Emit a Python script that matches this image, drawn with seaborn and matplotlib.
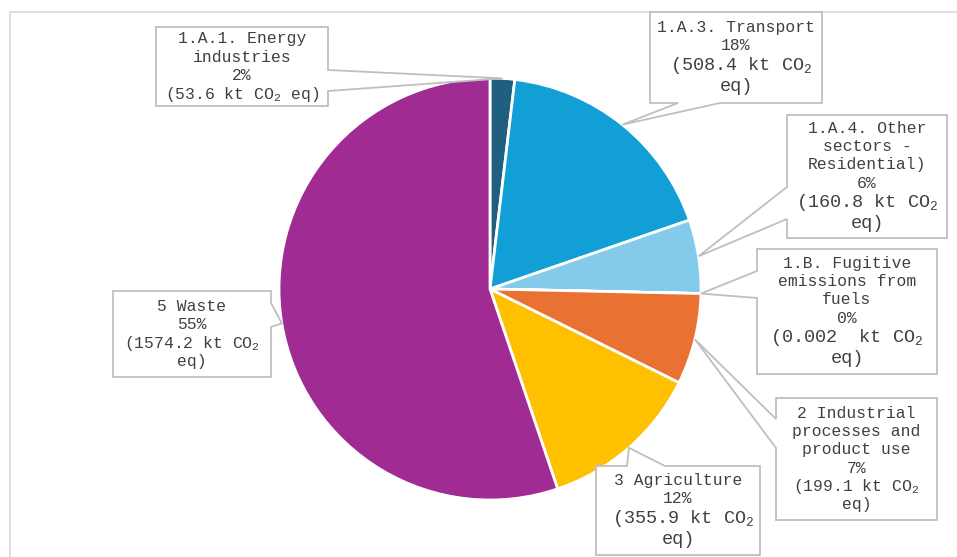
import numpy as np
import matplotlib
matplotlib.use("Agg")
import matplotlib.pyplot as plt
from matplotlib.patches import Polygon, Rectangle
import seaborn as sns

# data
categories = ["1.A.1. Energy industries", "1.A.3. Transport",
              "1.A.4. Other sectors - Residential)", "1.B. Fugitive emissions from fuels",
              "2 Industrial processes and product use", "3 Agriculture", "5 Waste"]
values = [53.6, 508.4, 160.8, 0.002, 199.1, 355.9, 1574.2]
colors = ["#1F5F7F", "#119FD6", "#83CAEB", "#7F7F7F", "#E97132", "#FFC000", "#A02B93"]
name_lines = [["1.A.1. Energy", "industries"],
              ["1.A.3. Transport"],
              ["1.A.4. Other", "sectors -", "Residential)"],
              ["1.B. Fugitive", "emissions from", "fuels"],
              ["2 Industrial", "processes and", "product use"],
              ["3 Agriculture"],
              ["5 Waste"]]
value_lines = [["(53.6 kt CO$_2$ eq)"],
               [" (508.4 kt CO$_2$", "eq)"],
               ["(160.8 kt CO$_2$", "eq)"],
               ["(0.002  kt CO$_2$", "eq)"],
               ["(199.1 kt CO$_2$", "eq)"],
               [" (355.9 kt CO$_2$", "eq)"],
               ["(1574.2 kt CO$_2$", "eq)"]]
big_value = [False, True, True, True, False, True, False]

# callout boxes in pixels (left, top, right, bottom), pointer side and base
boxes = [(156, 27, 328, 106), (650, 12, 822, 103), (787, 115, 947, 238),
         (757, 249, 937, 374), (776, 398, 937, 520), (596, 466, 760, 555),
         (113, 291, 271, 377)]
pointer = [("right", 70, 91), ("bottom", 678, 720), ("left", 187, 219),
           ("left", 271, 298), ("left", 419, 448), ("top", 627, 665),
           ("right", 303, 327)]

sns.set_theme(style="white")
plt.rcParams["font.family"] = ["Liberation Mono", "DejaVu Sans"]
plt.rcParams["mathtext.fontset"] = "custom"
plt.rcParams["mathtext.rm"] = "Liberation Mono"
plt.rcParams["mathtext.it"] = "Liberation Mono"

W, H = 957, 557
fig = plt.figure(figsize=(W / 100, H / 100), dpi=100)
fig.patch.set_facecolor("white")


def px(x, y):
    return (x / W, 1 - y / H)


# outer chart frame
fig.patches.append(Rectangle(px(10, 570), 960 / W, 558 / H, transform=fig.transFigure,
                             fill=False, edgecolor="#D9D9D9", lw=1.2, zorder=0))

cx, cy, r = 490, 289, 211
ax = fig.add_axes([(cx - r) / W, (H - cy - r) / H, 2 * r / W, 2 * r / H])
wedges, _ = ax.pie(values, colors=colors, startangle=90, counterclock=False, radius=1,
                   wedgeprops=dict(edgecolor="white", linewidth=2))
ax.set_xlim(-1, 1)
ax.set_ylim(-1, 1)
ax.axis("off")

total = sum(values)
txt_color = "#404040"
small, large = 11.8, 13.3

for i, w in enumerate(wedges):
    mid = np.deg2rad((w.theta1 + w.theta2) / 2)
    disp = ax.transData.transform((np.cos(mid), np.sin(mid)))
    fx, fy = fig.transFigure.inverted().transform(disp)
    tip = (fx * W, (1 - fy) * H)

    l, t, rr, b = boxes[i]
    side, a1, a2 = pointer[i]
    if side == "top":
        pts = [(l, t), (a1, t), tip, (a2, t), (rr, t), (rr, b), (l, b)]
    elif side == "right":
        pts = [(l, t), (rr, t), (rr, a1), tip, (rr, a2), (rr, b), (l, b)]
    elif side == "bottom":
        pts = [(l, t), (rr, t), (rr, b), (a2, b), tip, (a1, b), (l, b)]
    else:
        pts = [(l, t), (rr, t), (rr, b), (l, b), (l, a2), tip, (l, a1)]
    fig.patches.append(Polygon([px(*p) for p in pts], closed=True, transform=fig.transFigure,
                               facecolor="white", edgecolor="#BFBFBF", lw=1.3, zorder=3))

    pct = f"{round(values[i] / total * 100)}%"
    lines = [(s, small) for s in name_lines[i]] + [(pct, small)]
    vsize = large if big_value[i] else small
    lines += [(s, vsize) for s in value_lines[i]]
    heights = [sz * 100 / 72 * 1.12 for _, sz in lines]
    y = (t + b) / 2 - sum(heights) / 2
    for (s, sz), h in zip(lines, heights):
        fig.text(*px((l + rr) / 2, y + h / 2), s, ha="center", va="center",
                 fontsize=sz, color=txt_color, zorder=4)
        y += h

fig.savefig("out.png", dpi=100, facecolor="white")
